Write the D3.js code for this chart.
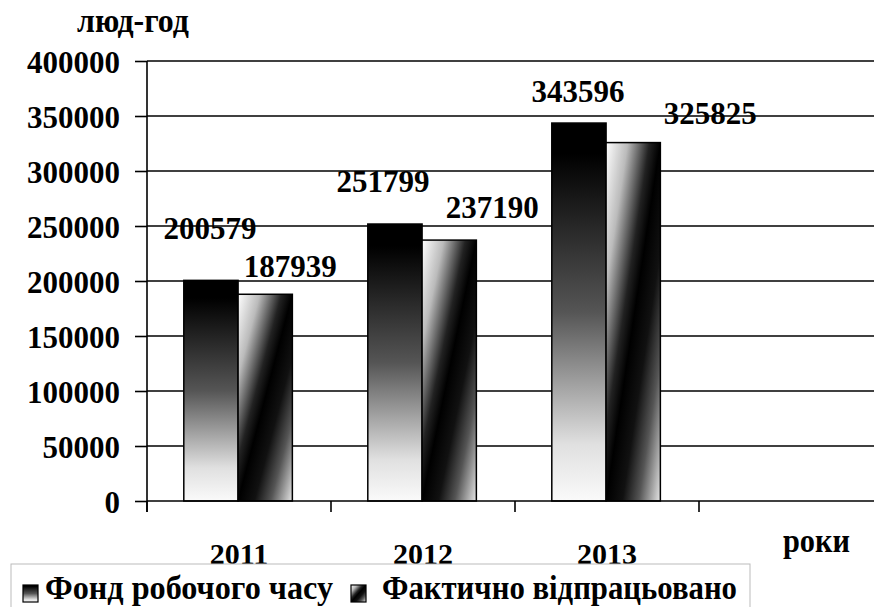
<!DOCTYPE html>
<html>
<head>
<meta charset="utf-8">
<script src="https://cdn.jsdelivr.net/npm/d3@7"></script>
<style>
  html, body { margin: 0; padding: 0; background: #fff; }
  svg { display: block; }
</style>
</head>
<body>
<svg id="chart" width="874" height="607"></svg>
<script>
// ---- data ----
const categories = ["2011", "2012", "2013", ""];
const seriesNames = ["Фонд робочого часу", "Фактично відпрацьовано"];
const fondValues = [200579, 251799, 343596];
const faktValues = [187939, 237190, 325825];
const yTicks = [0, 50000, 100000, 150000, 200000, 250000, 300000, 350000, 400000];
const yTitle = "люд-год";
const xTitle = "роки";
// manual label nudges (layout only), [dx, dy] relative to bar centre / top
const fondNudge = [[-1, -41], [-12, -32], [-1, -21]];
const faktNudge = [[25, -17], [43, -22], [77, -19]];

const FONT = '"Liberation Serif"';
function serif(sel, size) {
  return sel.style("font-family", FONT).style("font-weight", "bold")
    .style("font-size", size + "px").style("fill", "#000");
}

const svg = d3.select("#chart");
const W = 874, H = 607;
svg.append("rect").attr("width", W).attr("height", H).attr("fill", "#fff");

const defs = svg.append("defs");
const g1 = defs.append("linearGradient").attr("id", "gradFond")
  .attr("x1", 0).attr("y1", 0).attr("x2", 0).attr("y2", 1);
[[0, "#000"], [0.08, "#000"], [0.5, "#555"], [0.85, "#e0e0e0"], [1, "#fafafa"]].forEach(s =>
  g1.append("stop").attr("offset", s[0]).attr("stop-color", s[1]));
const g2 = defs.append("linearGradient").attr("id", "gradFakt")
  .attr("x1", 0).attr("y1", 0).attr("x2", 1).attr("y2", 1);
[[0, "#fff"], [0.2, "#bbb"], [0.4, "#222"], [0.5, "#000"], [0.65, "#111"], [0.8, "#555"], [1, "#e6e6e6"]].forEach(s =>
  g2.append("stop").attr("offset", s[0]).attr("stop-color", s[1]));

const plotLeft = 147, plotTop = 61, plotBottom = 501;
const x = d3.scaleBand().domain(categories).range([plotLeft, plotLeft + 4 * 184]).padding(0);
const y = d3.scaleLinear().domain([0, 400000]).range([plotBottom, plotTop]);
const bw = x.bandwidth();
const x1 = d3.scaleBand().domain([0, 1]).range([bw * 0.2, bw * 0.79]).padding(0);

// gridlines
svg.append("g").selectAll("line").data(yTicks.filter(d => d > 0)).join("line")
  .attr("x1", plotLeft).attr("x2", W)
  .attr("y1", d => y(d)).attr("y2", d => y(d))
  .attr("stroke", "#000").attr("stroke-width", 1.6);

// y axis
const yAxis = svg.append("g").attr("transform", `translate(${plotLeft},0)`)
  .call(d3.axisLeft(y).tickValues(yTicks).tickSize(12).tickPadding(15).tickFormat(d3.format("d")));
yAxis.select(".domain").remove();
yAxis.selectAll(".tick line").attr("stroke", "#000").attr("stroke-width", 1.6);
serif(yAxis.selectAll(".tick text"), 31).attr("dy", "0.36em");
svg.append("line").attr("x1", plotLeft).attr("x2", plotLeft).attr("y1", plotTop).attr("y2", plotBottom + 11)
  .attr("stroke", "#000").attr("stroke-width", 1.6);

// bars
const bars = svg.append("g");
categories.slice(0, 3).forEach((c, i) => {
  bars.append("rect")
    .attr("x", x(c) + x1(0)).attr("width", x1.bandwidth())
    .attr("y", y(fondValues[i])).attr("height", y(0) - y(fondValues[i]))
    .attr("fill", "url(#gradFond)").attr("stroke", "#000").attr("stroke-width", 1.5);
  bars.append("rect")
    .attr("x", x(c) + x1(1)).attr("width", x1.bandwidth())
    .attr("y", y(faktValues[i])).attr("height", y(0) - y(faktValues[i]))
    .attr("fill", "url(#gradFakt)").attr("stroke", "#000").attr("stroke-width", 1.5);
});

// x axis
svg.append("line").attr("x1", plotLeft).attr("x2", W).attr("y1", plotBottom).attr("y2", plotBottom)
  .attr("stroke", "#000").attr("stroke-width", 1.6);
svg.append("g").selectAll("line").data(categories).join("line")
  .attr("x1", d => x(d)).attr("x2", d => x(d))
  .attr("y1", plotBottom).attr("y2", plotBottom + 11)
  .attr("stroke", "#000").attr("stroke-width", 1.6);
serif(svg.append("g").selectAll("text").data(categories.filter(d => d)).join("text")
  .attr("x", d => x(d) + bw / 2).attr("y", 564)
  .attr("text-anchor", "middle").text(d => d), 30);

// data labels
const labels = svg.append("g");
categories.slice(0, 3).forEach((c, i) => {
  serif(labels.append("text")
    .attr("x", x(c) + x1(0) + x1.bandwidth() / 2 + fondNudge[i][0])
    .attr("y", y(fondValues[i]) + fondNudge[i][1])
    .attr("text-anchor", "middle")
    .text(fondValues[i]), 31);
  serif(labels.append("text")
    .attr("x", x(c) + x1(1) + x1.bandwidth() / 2 + faktNudge[i][0])
    .attr("y", y(faktValues[i]) + faktNudge[i][1])
    .attr("text-anchor", "middle")
    .text(faktValues[i]), 31);
});

// titles
serif(svg.append("text").attr("x", 77).attr("y", 32)
  .attr("textLength", 112).attr("lengthAdjust", "spacingAndGlyphs").text(yTitle), 34);
serif(svg.append("text").attr("x", 783).attr("y", 552)
  .attr("textLength", 67).attr("lengthAdjust", "spacingAndGlyphs").text(xTitle), 34);

// legend
const lg = svg.append("g");
lg.append("rect").attr("x", 11).attr("y", 564).attr("width", 739).attr("height", 60)
  .attr("fill", "#fff").attr("stroke", "#bbb").attr("stroke-width", 1);
const legItems = [
  { name: seriesNames[0], fill: "url(#gradFond)", ix: 23, tx: 45, tl: 288 },
  { name: seriesNames[1], fill: "url(#gradFakt)", ix: 351, tx: 382, tl: 355 }
];
legItems.forEach(it => {
  lg.append("rect").attr("x", it.ix).attr("y", 585).attr("width", 15).attr("height", 17)
    .attr("fill", it.fill).attr("stroke", "#000").attr("stroke-width", 1.2);
  serif(lg.append("text").attr("x", it.tx).attr("y", 599)
    .attr("textLength", it.tl).attr("lengthAdjust", "spacingAndGlyphs").text(it.name), 34);
});
</script>
</body>
</html>
